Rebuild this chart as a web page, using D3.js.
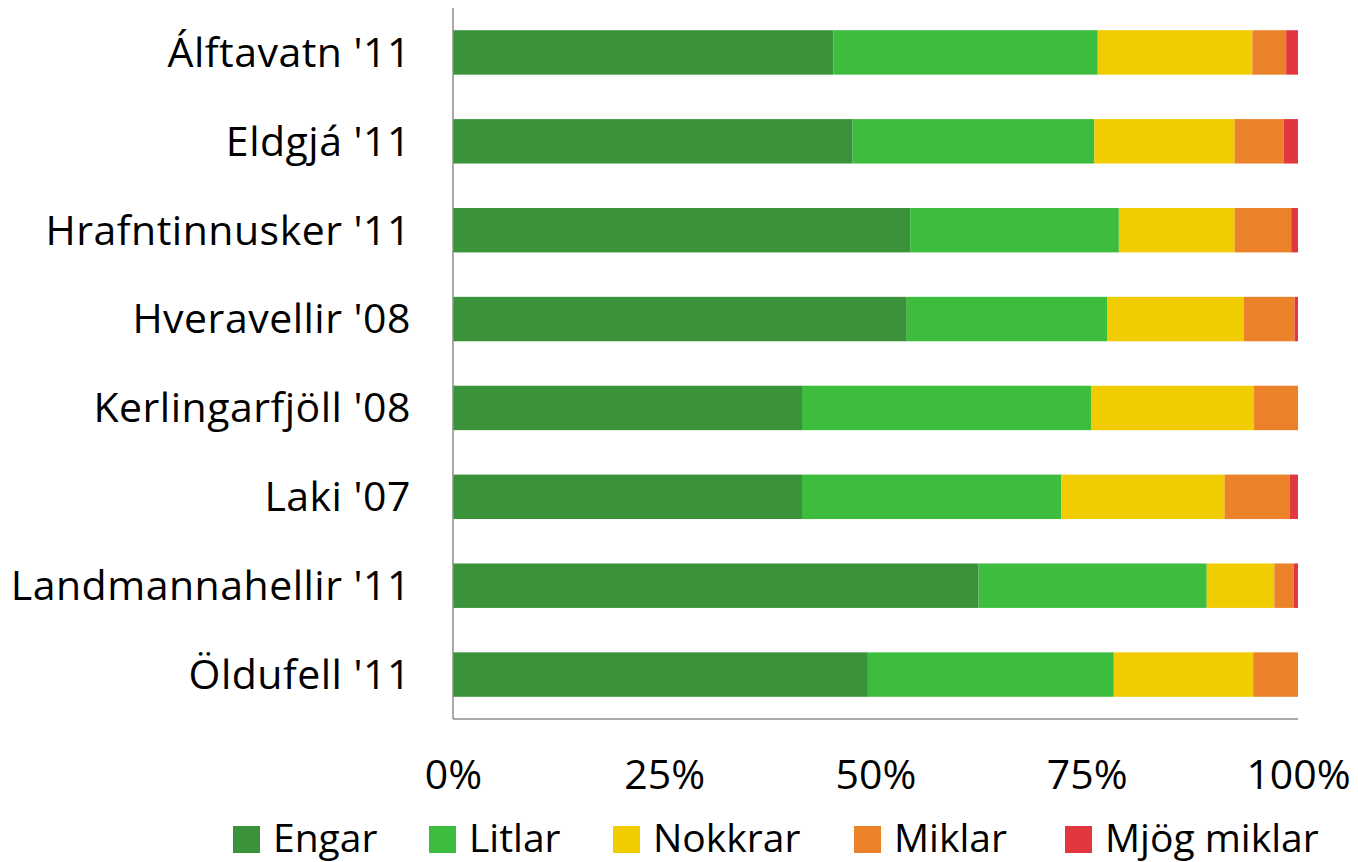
<!DOCTYPE html>
<html>
<head>
<meta charset="utf-8">
<script src="https://cdn.jsdelivr.net/npm/d3@7"></script>
<style>
  body { margin: 0; background: #fff; }
  text { font-family: "Open Sans", Lato, sans-serif; fill: #000; }
</style>
</head>
<body>
<div id="chart"></div>
<script>
// places surveyed
var places = ["Álftavatn '11", "Eldgjá '11", "Hrafntinnusker '11", "Hveravellir '08",
              "Kerlingarfjöll '08", "Laki '07", "Landmannahellir '11", "Öldufell '11"];
var seriesNames = ["Engar", "Litlar", "Nokkrar", "Miklar", "Mjög miklar"];
var seriesColors = ["#3a923a", "#3dbd3d", "#f0cc00", "#eb8128", "#e0383e"];

// shares in percent, one array per series
var engar      = [45.0, 47.3, 54.1, 53.7, 41.3, 41.3, 62.2, 49.1];
var litlar     = [31.3, 28.6, 24.7, 23.7, 34.2, 30.7, 27.0, 29.1];
var nokkrar    = [18.3, 16.6, 13.7, 16.2, 19.3, 19.3,  8.0, 16.5];
var miklar     = [ 4.0,  5.8,  6.7,  6.0,  5.2,  7.7,  2.3,  5.3];
var mjogMiklar = [ 1.4,  1.7,  0.8,  0.4,  0.0,  1.0,  0.5,  0.0];

var tickValues = [0, 0.25, 0.5, 0.75, 1];

var W = 1358, H = 862;
var margin = {top: 8, right: 60, bottom: 143, left: 453};
var width = 1298 - margin.left;
var height = 719 - margin.top;

var svg = d3.select("#chart").append("svg")
    .attr("width", W)
    .attr("height", H);

var g = svg.append("g")
    .attr("transform", "translate(" + margin.left + "," + margin.top + ")");

var rows = places.map(function(p, i) {
    var r = {place: p};
    r["Engar"] = engar[i];
    r["Litlar"] = litlar[i];
    r["Nokkrar"] = nokkrar[i];
    r["Miklar"] = miklar[i];
    r["Mjög miklar"] = mjogMiklar[i];
    return r;
});

var stack = d3.stack().keys(seriesNames).offset(d3.stackOffsetExpand);
var layers = stack(rows);

var x = d3.scaleLinear().domain([0, 1]).range([0, width]);
var y = d3.scaleBand().domain(places).range([0, height]).paddingInner(0.5).paddingOuter(0.25);
var color = d3.scaleOrdinal().domain(seriesNames).range(seriesColors);

g.selectAll(".layer")
    .data(layers)
    .enter()
    .append("g")
    .attr("class", "layer")
    .attr("fill", d => color(d.key))
    .selectAll("rect")
    .data(d => d)
    .enter()
    .append("rect")
    .attr("x", d => x(d[0]))
    .attr("width", d => x(d[1]) - x(d[0]))
    .attr("y", d => y(d.data.place))
    .attr("height", y.bandwidth());

// axis lines
g.append("line")
    .attr("x1", 0).attr("x2", 0)
    .attr("y1", 0).attr("y2", height)
    .attr("stroke", "#8c8c8c").attr("stroke-width", 1.5);
g.append("line")
    .attr("x1", 0).attr("x2", width)
    .attr("y1", height).attr("y2", height)
    .attr("stroke", "#8c8c8c").attr("stroke-width", 1.5);

// category labels
var yAxis = g.append("g")
    .call(d3.axisLeft(y).tickSize(0).tickPadding(42));
yAxis.select(".domain").remove();
yAxis.selectAll("text")
    .style("font-size", "41px")
    .style("letter-spacing", "0.5px")
    .attr("dy", "0.35em");

// percent labels
var xAxis = g.append("g")
    .attr("transform", "translate(0," + height + ")")
    .call(d3.axisBottom(x).tickValues(tickValues).tickFormat(d3.format(".0%")).tickSize(0).tickPadding(41));
xAxis.select(".domain").remove();
xAxis.selectAll("text")
    .style("font-size", "41px")
    .attr("dy", "0.71em");

// legend
var legendX = [233, 429, 613, 854, 1065];
var legend = svg.append("g").attr("transform", "translate(0,826)");
var item = legend.selectAll(".item")
    .data(seriesNames)
    .enter()
    .append("g")
    .attr("class", "item")
    .attr("transform", (d, i) => "translate(" + legendX[i] + ",0)");
item.append("rect")
    .attr("width", 27)
    .attr("height", 27)
    .attr("fill", d => color(d));
item.append("text")
    .attr("x", 40)
    .attr("y", 26)
    .style("font-size", "39px")
    .text(d => d);
</script>
</body>
</html>
